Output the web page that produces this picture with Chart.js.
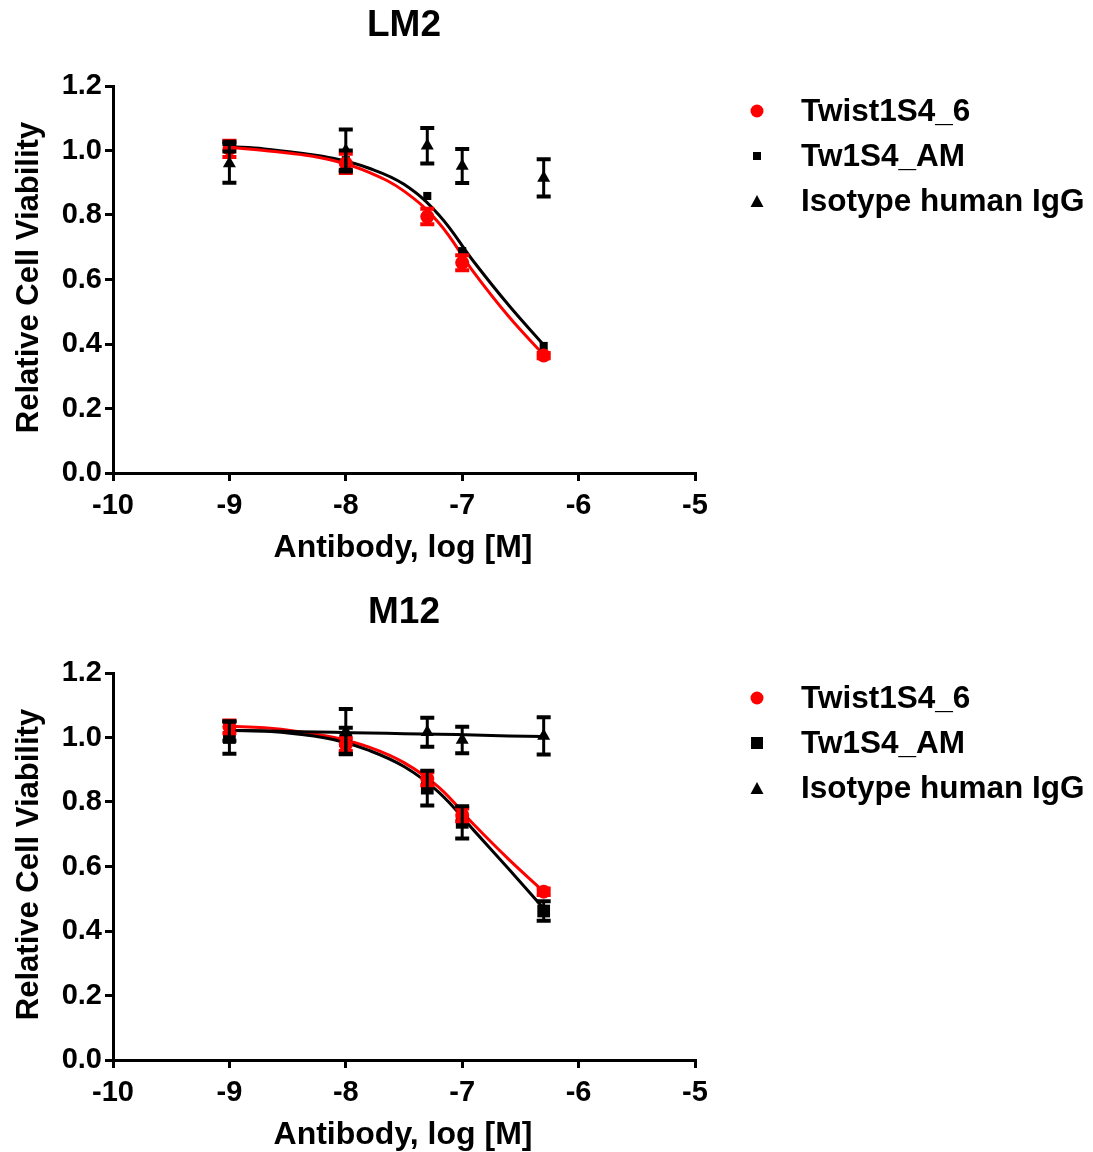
<!DOCTYPE html>
<html>
<head>
<meta charset="utf-8">
<script src="https://cdn.jsdelivr.net/npm/chart.js@4/dist/chart.umd.min.js"></script>
<style>
  body { margin: 0; background: #fff; width: 1093px; height: 1152px; overflow: hidden; }
  .panel { position: relative; width: 1093px; height: 587px; }
</style>
</head>
<body>
<div class="panel"><canvas id="lm2"></canvas></div>
<div class="panel"><canvas id="m12"></canvas></div>
<script>
// doses (log M) and tick labels
const doses = [-9, -8, -7.3, -7, -6.3];
const curveX = [-9, -8.7, -8.4, -8.1, -7.8, -7.5, -7.2, -6.9, -6.6, -6.3];
const xTicks = [-10, -9, -8, -7, -6, -5];
const yTicks = [0, 0.2, 0.4, 0.6, 0.8, 1.0, 1.2];
const seriesNames = ['Twist1S4_6', 'Tw1S4_AM', 'Isotype human IgG'];

// LM2 panel
const lm2Twist = [1.005, 0.96, 0.795, 0.652, 0.364];
const lm2TwistErr = [0.025, 0.03, 0.024, 0.023, 0.008];
const lm2Tw1 = [1.012, 0.97, 0.859, 0.688, 0.394];
const lm2Tw1Err = [0.015, 0.03, 0, 0, 0];
const lm2Iso = [0.96, 1.0, 1.015, 0.952, 0.915];
const lm2IsoErr = [0.06, 0.065, 0.055, 0.053, 0.058];
const lm2TwistFit = [1.01, 1.0, 0.988, 0.968, 0.932, 0.874, 0.775, 0.622, 0.485, 0.366];
const lm2Tw1Fit = [1.012, 1.005, 0.992, 0.975, 0.945, 0.895, 0.80, 0.655, 0.52, 0.397];

// M12 panel
const m12Twist = [1.033, 0.978, 0.872, 0.76, 0.522];
const m12TwistErr = [0.02, 0.02, 0.02, 0.02, 0.01];
const m12Tw1 = [1.0, 0.99, 0.843, 0.737, 0.462];
const m12Tw1Err = [0.05, 0.04, 0.054, 0.05, 0.03];
const m12Iso = [1.02, 1.018, 1.016, 0.992, 1.005];
const m12IsoErr = [0.03, 0.07, 0.045, 0.041, 0.058];
const m12TwistFit = [1.035, 1.03, 1.018, 1.0, 0.97, 0.922, 0.845, 0.73, 0.622, 0.522];
const m12Tw1Fit = [1.022, 1.02, 1.01, 0.993, 0.96, 0.91, 0.83, 0.712, 0.592, 0.470];
const m12IsoFit = [1.022, 1.02, 1.018, 1.016, 1.014, 1.012, 1.01, 1.008, 1.005, 1.003];

const FONT = '"Liberation Sans", Arial, Helvetica, sans-serif';
const RED = '#ff0000';
const BLACK = '#000000';

const pts = (xs, ys) => xs.map((x, i) => ({ x: x, y: ys[i] }));

function markerDataset(label, ys, errs, color, style, radius) {
    return {
        label: label,
        data: pts(doses, ys),
        errorBars: errs,
        showLine: false,
        pointStyle: style,
        pointRadius: radius,
        pointHoverRadius: radius,
        pointBackgroundColor: color,
        pointBorderColor: color,
        pointBorderWidth: 0,
        borderColor: color,
        order: 0
    };
}

function fitDataset(ys, color) {
    return {
        label: 'fit',
        data: pts(curveX, ys),
        showLine: true,
        borderColor: color,
        borderWidth: 3,
        pointRadius: 0,
        tension: 0.4,
        fill: false,
        order: 1
    };
}

// error bars, titles and legend
const decor = {
    id: 'decor',
    afterDatasetsDraw(chart, args, opts) {
        const ctx = chart.ctx;
        const y = chart.scales.y;
        ctx.save();
        chart.data.datasets.forEach((ds, i) => {
            if (!ds.errorBars) return;
            const meta = chart.getDatasetMeta(i);
            ctx.strokeStyle = ds.borderColor;
            ds.data.forEach((p, j) => {
                const e = ds.errorBars[j];
                if (!e) return;
                const px = meta.data[j].x;
                const top = y.getPixelForValue(p.y + e);
                const bot = y.getPixelForValue(p.y - e);
                ctx.lineWidth = 3;
                ctx.beginPath();
                ctx.moveTo(px, top); ctx.lineTo(px, bot);
                ctx.stroke();
                ctx.lineWidth = 4;
                ctx.beginPath();
                ctx.moveTo(px - 7, top); ctx.lineTo(px + 7, top);
                ctx.moveTo(px - 7, bot); ctx.lineTo(px + 7, bot);
                ctx.stroke();
            });
        });
        ctx.restore();
    },
    afterDraw(chart, args, opts) {
        const ctx = chart.ctx;
        const a = chart.chartArea;
        ctx.save();
        ctx.fillStyle = BLACK;
        ctx.textBaseline = 'middle';
        ctx.textAlign = 'center';
        ctx.font = 'bold 37px ' + FONT;
        ctx.fillText(opts.title, (a.left + a.right) / 2, 26);
        ctx.font = 'bold 32px ' + FONT;
        ctx.fillText('Antibody, log [M]', (a.left + a.right) / 2 - 1, 548);
        ctx.font = 'bold 31px ' + FONT;
        ctx.save();
        ctx.translate(29, (a.top + a.bottom) / 2 - 2);
        ctx.rotate(-Math.PI / 2);
        ctx.fillText('Relative Cell Viability', 0, 0);
        ctx.restore();

        // legend
        ctx.font = 'bold 31.5px ' + FONT;
        ctx.textAlign = 'left';
        opts.legend.forEach((item, k) => {
            const ly = 111 + k * 45;
            const lx = 757;
            ctx.fillStyle = item.color;
            ctx.beginPath();
            if (item.style === 'circle') {
                ctx.arc(lx, ly, 6.5, 0, Math.PI * 2);
            } else if (item.style === 'rect') {
                ctx.rect(lx - item.size / 2, ly - item.size / 2, item.size, item.size);
            } else {
                ctx.moveTo(lx, ly - 6);
                ctx.lineTo(lx + 6.5, ly + 6);
                ctx.lineTo(lx - 6.5, ly + 6);
                ctx.closePath();
            }
            ctx.fill();
            ctx.fillStyle = BLACK;
            ctx.fillText(item.label, 801, ly + 1);
        });
        ctx.restore();
    }
};

function makeChart(id, title, datasets, squareSize) {
    return new Chart(document.getElementById(id), {
        type: 'scatter',
        data: { datasets: datasets },
        plugins: [decor],
        options: {
            responsive: true,
            maintainAspectRatio: false,
            animation: false,
            layout: { padding: { left: 0, top: 86, right: 398, bottom: 0 } },
            plugins: {
                legend: { display: false },
                tooltip: { enabled: false },
                decor: {
                    title: title,
                    legend: [
                        { label: seriesNames[0], color: RED, style: 'circle' },
                        { label: seriesNames[1], color: BLACK, style: 'rect', size: squareSize },
                        { label: seriesNames[2], color: BLACK, style: 'triangle' }
                    ]
                }
            },
            scales: {
                x: {
                    type: 'linear',
                    min: -10, max: -5,
                    afterFit: (s) => { s.height = 114; },
                    afterBuildTicks: (s) => { s.ticks = xTicks.map(v => ({ value: v })); },
                    border: { color: BLACK, width: 3 },
                    grid: { drawOnChartArea: false, drawTicks: true, tickLength: 8, color: BLACK, lineWidth: 3 },
                    ticks: { color: BLACK, padding: 8, font: { family: FONT, size: 29, weight: 'bold' } }
                },
                y: {
                    type: 'linear',
                    min: 0, max: 1.2,
                    afterFit: (s) => { s.width = 113; },
                    afterBuildTicks: (s) => { s.ticks = yTicks.map(v => ({ value: v })); },
                    border: { color: BLACK, width: 3 },
                    grid: { drawOnChartArea: false, drawTicks: true, tickLength: 8, color: BLACK, lineWidth: 3 },
                    ticks: {
                        color: BLACK, padding: 3,
                        font: { family: FONT, size: 29, weight: 'bold' },
                        callback: (v) => v.toFixed(1)
                    }
                }
            }
        }
    });
}

makeChart('lm2', 'LM2', [
    markerDataset(seriesNames[0], lm2Twist, lm2TwistErr, RED, 'circle', 7),
    markerDataset(seriesNames[1], lm2Tw1, lm2Tw1Err, BLACK, 'rect', 5.7),
    markerDataset(seriesNames[2], lm2Iso, lm2IsoErr, BLACK, 'triangle', 7.5),
    fitDataset(lm2TwistFit, RED),
    fitDataset(lm2Tw1Fit, BLACK)
], 8);

makeChart('m12', 'M12', [
    markerDataset(seriesNames[0], m12Twist, m12TwistErr, RED, 'circle', 7),
    markerDataset(seriesNames[1], m12Tw1, m12Tw1Err, BLACK, 'rect', 9),
    markerDataset(seriesNames[2], m12Iso, m12IsoErr, BLACK, 'triangle', 7.5),
    fitDataset(m12IsoFit, BLACK),
    fitDataset(m12Tw1Fit, BLACK),
    fitDataset(m12TwistFit, RED)
], 12);
</script>
</body>
</html>
